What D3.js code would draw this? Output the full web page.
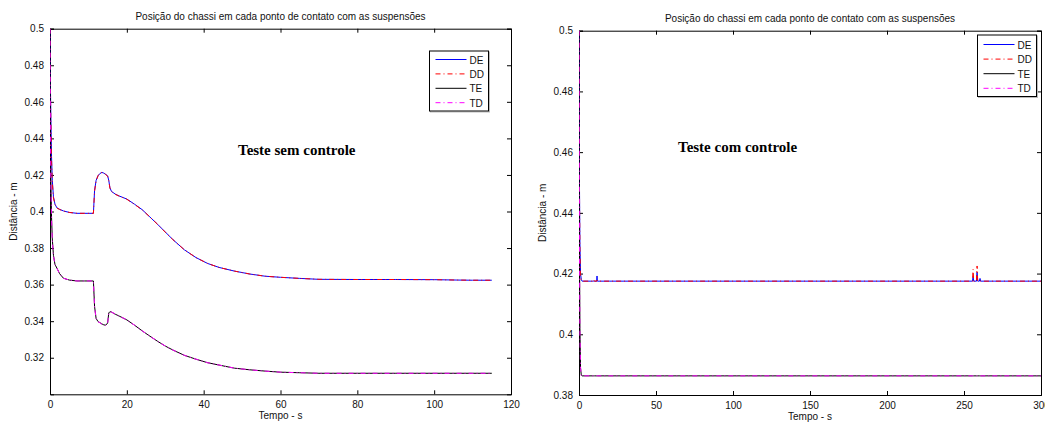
<!DOCTYPE html>
<html><head><meta charset="utf-8">
<script src="https://cdn.jsdelivr.net/npm/d3@7"></script>
<style>
html,body{margin:0;padding:0;background:#fff;}
svg{display:block;font-family:"Liberation Sans",Arial,sans-serif;}
</style></head>
<body>
<svg id="c" width="1045" height="425"></svg>
<script>
// ---------- DATA ----------
const titleText = "Posição do chassi em cada ponto de contato com as suspensões";
const xLabel = "Tempo - s";
const yLabel = "Distância - m";
const seriesNames = ["DE", "DD", "TE", "TD"];
const seriesColors = ["#0000ff", "#ff0000", "#000000", "#ff00ff"];
const seriesDash = [null, "5,3,1,3", null, "5,3,1,3"];

// Left chart: "Teste sem controle"
const leftTime = [0, 0.1, 0.2, 0.4, 0.6, 0.9, 1.3, 1.8, 2.5, 3.5, 5, 7, 9, 11.3, 11.6, 12, 12.5, 13, 13.5, 14, 14.5, 15, 15.3, 15.6, 16, 17, 18, 20, 22, 24, 26, 28, 30, 32, 35, 38, 41, 44, 48, 52, 56, 60, 65, 70, 80, 90, 100, 106, 110, 115];
const leftDE = [0.5, 0.47, 0.455, 0.43, 0.417, 0.408, 0.404, 0.402, 0.4012, 0.4003, 0.3995, 0.399, 0.399, 0.399, 0.4115, 0.417, 0.4195, 0.4208, 0.4214, 0.421, 0.4203, 0.4195, 0.417, 0.413, 0.411, 0.4095, 0.4085, 0.4068, 0.404, 0.401, 0.397, 0.393, 0.3888, 0.3846, 0.379, 0.3748, 0.3716, 0.3694, 0.3674, 0.3658, 0.3646, 0.364, 0.3634, 0.3629, 0.3628, 0.3628, 0.3627, 0.3625, 0.3624, 0.3624];
const leftDD = [0.5, 0.468, 0.452, 0.428, 0.416, 0.4075, 0.4038, 0.4019, 0.4011, 0.4002, 0.3995, 0.399, 0.399, 0.399, 0.411, 0.4168, 0.4196, 0.421, 0.4213, 0.4211, 0.4202, 0.4193, 0.4168, 0.4128, 0.4109, 0.4094, 0.4084, 0.4067, 0.4039, 0.4009, 0.397, 0.393, 0.3887, 0.3846, 0.379, 0.3748, 0.3716, 0.3694, 0.3674, 0.3658, 0.3646, 0.364, 0.3634, 0.3629, 0.3628, 0.3628, 0.3627, 0.3625, 0.3624, 0.3624];
const leftTE = [0.5, 0.45, 0.42, 0.397, 0.385, 0.376, 0.371, 0.369, 0.366, 0.3635, 0.3625, 0.362, 0.362, 0.362, 0.348, 0.3415, 0.3398, 0.3392, 0.3385, 0.338, 0.3378, 0.339, 0.3445, 0.3452, 0.345, 0.3438, 0.3428, 0.3407, 0.3378, 0.3347, 0.3318, 0.329, 0.3264, 0.3242, 0.3213, 0.3192, 0.3173, 0.316, 0.3143, 0.3134, 0.3127, 0.3121, 0.3118, 0.3115, 0.3115, 0.3115, 0.3115, 0.3115, 0.3115, 0.3115];
const leftTD = [0.5, 0.449, 0.419, 0.396, 0.3845, 0.3758, 0.3708, 0.3689, 0.3659, 0.3635, 0.3625, 0.362, 0.362, 0.362, 0.3478, 0.3413, 0.3397, 0.3391, 0.3384, 0.3379, 0.3377, 0.3389, 0.3443, 0.3451, 0.345, 0.3438, 0.3428, 0.3407, 0.3378, 0.3347, 0.3318, 0.329, 0.3264, 0.3242, 0.3213, 0.3192, 0.3173, 0.316, 0.3143, 0.3134, 0.3127, 0.3121, 0.3118, 0.3115, 0.3115, 0.3115, 0.3115, 0.3115, 0.3115, 0.3115];
const leftXTicks = [0, 20, 40, 60, 80, 100, 120];
const leftYTicks = [0.32, 0.34, 0.36, 0.38, 0.4, 0.42, 0.44, 0.46, 0.48, 0.5];

// Right chart: "Teste com controle"
const rightTime = [0, 0.3, 0.6, 1, 1.5, 2, 9, 9.5, 10, 11.5, 11.7, 11.9, 20, 100, 200, 255.5, 255.9, 256.3, 258.1, 258.5, 258.9, 260, 260.4, 260.8, 270, 300];
const rightDE = [0.5, 0.45, 0.43, 0.42, 0.418, 0.4175, 0.4175, 0.4175, 0.4175, 0.4175, 0.4192, 0.4175, 0.4175, 0.4175, 0.4175, 0.4175, 0.419, 0.4175, 0.4175, 0.4205, 0.4175, 0.4175, 0.4184, 0.4175, 0.4175, 0.4175];
const rightDD = [0.5, 0.448, 0.428, 0.419, 0.4178, 0.4175, 0.4175, 0.418, 0.4175, 0.4175, 0.4178, 0.4175, 0.4175, 0.4175, 0.4175, 0.4175, 0.4214, 0.4175, 0.4175, 0.4225, 0.4175, 0.4175, 0.4177, 0.4175, 0.4175, 0.4175];
const rightTE = [0.5, 0.429, 0.402, 0.389, 0.3865, 0.3863, 0.3863, 0.3863, 0.3863, 0.3863, 0.3863, 0.3863, 0.3863, 0.3863, 0.3863, 0.3863, 0.3863, 0.3863, 0.3863, 0.3863, 0.3863, 0.3863, 0.3863, 0.3863, 0.3863, 0.3863];
const rightTD = [0.5, 0.43, 0.401, 0.3888, 0.3864, 0.3863, 0.3863, 0.3863, 0.3863, 0.3863, 0.3863, 0.3863, 0.3863, 0.3863, 0.3863, 0.3863, 0.3863, 0.3863, 0.3863, 0.3863, 0.3863, 0.3863, 0.3863, 0.3863, 0.3863, 0.3863];
const rightXTicks = [0, 50, 100, 150, 200, 250, 300];
const rightYTicks = [0.38, 0.4, 0.42, 0.44, 0.46, 0.48, 0.5];

// ---------- DRAW ----------
const svg = d3.select("#c");

function drawPanel(cfg) {
  const x = d3.scaleLinear().domain(cfg.xDomain).range([cfg.left, cfg.right]);
  const y = d3.scaleLinear().domain(cfg.yDomain).range([cfg.bottom, cfg.top]);
  const g = svg.append("g");
  const clipId = "clip" + cfg.id;
  svg.append("clipPath").attr("id", clipId).append("rect")
    .attr("x", cfg.left).attr("y", cfg.top)
    .attr("width", cfg.right - cfg.left).attr("height", cfg.bottom - cfg.top);

  const fmt = v => String(+v.toFixed(2));
  const axB = d3.axisBottom(x).tickValues(cfg.xTicks).tickSize(-4).tickPadding(7).tickFormat(d => String(d));
  const axT = d3.axisTop(x).tickValues(cfg.xTicks).tickSize(-4).tickFormat("");
  const axL = d3.axisLeft(y).tickValues(cfg.yTicks).tickSize(-4).tickPadding(6).tickFormat(fmt);
  const axR = d3.axisRight(y).tickValues(cfg.yTicks).tickSize(-4).tickFormat("");
  const gb = g.append("g").attr("transform", `translate(0,${cfg.bottom})`).call(axB);
  const gt = g.append("g").attr("transform", `translate(0,${cfg.top})`).call(axT);
  const gl = g.append("g").attr("transform", `translate(${cfg.left},0)`).call(axL);
  const gr = g.append("g").attr("transform", `translate(${cfg.right},0)`).call(axR);
  [gb, gt, gl, gr].forEach(a => {
    a.selectAll(".domain").attr("stroke", "#000").attr("stroke-width", 1);
    a.selectAll(".tick line").attr("stroke", "#000");
    a.selectAll("text").attr("font-size", 10).attr("fill", "#111")
      .attr("font-family", "'Liberation Sans',Arial,sans-serif");
  });

  const lineGen = d3.line().x(d => x(d[0])).y(d => y(d[1]));
  const lines = g.append("g").attr("clip-path", `url(#${clipId})`);
  cfg.series.forEach((vals, i) => {
    const pts = cfg.time.map((t, k) => [t, vals[k]]);
    lines.append("path").datum(pts).attr("d", lineGen)
      .attr("fill", "none").attr("stroke", seriesColors[i]).attr("stroke-width", 1)
      .attr("stroke-dasharray", seriesDash[i]);
  });

  g.append("text").attr("x", (cfg.left + cfg.right) / 2).attr("y", cfg.top - 9)
    .attr("text-anchor", "middle").attr("font-size", 10).attr("fill", "#111").text(titleText);
  g.append("text").attr("x", (cfg.left + cfg.right) / 2).attr("y", cfg.bottom + 25)
    .attr("text-anchor", "middle").attr("font-size", 10).attr("fill", "#111").text(xLabel);
  g.append("text").attr("transform", `translate(${cfg.left - 33},${(cfg.top + cfg.bottom) / 2}) rotate(-90)`)
    .attr("text-anchor", "middle").attr("font-size", 10).attr("fill", "#111").text(yLabel);

  g.append("text").attr("x", cfg.noteX).attr("y", cfg.noteY)
    .attr("font-family", "'Liberation Serif','Times New Roman',serif")
    .attr("font-weight", "bold").attr("font-size", 15).attr("fill", "#000").text(cfg.note);

  const L = cfg.legend;
  const lg = g.append("g");
  lg.append("rect").attr("x", L.x + 1).attr("y", L.y + 1).attr("width", L.w).attr("height", L.h)
    .attr("fill", "none").attr("stroke", "#bbb");
  lg.append("rect").attr("x", L.x).attr("y", L.y).attr("width", L.w).attr("height", L.h)
    .attr("fill", "#fff").attr("stroke", "#000");
  seriesNames.forEach((name, i) => {
    const yy = L.y + L.first + i * L.step;
    lg.append("line").attr("x1", L.x + 6).attr("x2", L.x + 37).attr("y1", yy).attr("y2", yy)
      .attr("stroke", seriesColors[i]).attr("stroke-width", 1).attr("stroke-dasharray", seriesDash[i]);
    lg.append("text").attr("x", L.x + 40).attr("y", yy + 4).attr("font-size", 10)
      .attr("fill", "#111").text(name);
  });
}

drawPanel({
  id: "L", left: 50, right: 511, top: 28.7, bottom: 394.3,
  xDomain: [0, 120], yDomain: [0.3, 0.5],
  xTicks: leftXTicks, yTicks: leftYTicks,
  time: leftTime, series: [leftDE, leftDD, leftTE, leftTD],
  note: "Teste sem controle", noteX: 238, noteY: 155,
  legend: { x: 429.5, y: 51, w: 59, h: 60, first: 8.5, step: 14.4 }
});

drawPanel({
  id: "R", left: 579, right: 1041, top: 30.7, bottom: 395,
  xDomain: [0, 300], yDomain: [0.38, 0.5],
  xTicks: rightXTicks, yTicks: rightYTicks,
  time: rightTime, series: [rightDE, rightDD, rightTE, rightTD],
  note: "Teste com controle", noteX: 678, noteY: 152,
  legend: { x: 977.5, y: 35, w: 59, h: 61.5, first: 9.5, step: 14.6 }
});
</script>
</body></html>
